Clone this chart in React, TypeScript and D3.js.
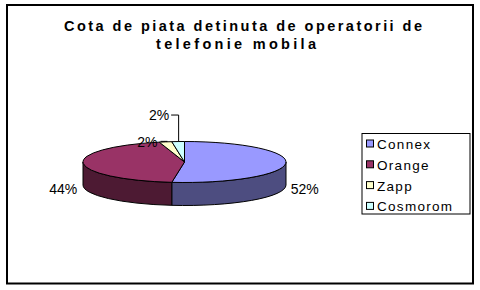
import React from "react";
import * as d3 from "d3";

const categories = ["Connex", "Orange", "Zapp", "Cosmorom"];
const values = [52, 44, 2, 2];
const labels = ["52%", "44%", "2%", "2%"];
const topColors = ["#9999FF", "#993366", "#FFFFCC", "#CCFFFF"];
const sideColors = ["#4D4D80", "#4D1A33", "#80805F", "#5F8080"];
const titleLines = ["Cota de piata detinuta de operatorii de", "telefonie mobila"];

const W = 480;
const H = 290;
const cx = 184.5;
const cy = 162;
const rx = 101.5;
const ry = 20.5;
const depth = 23;
const FONT = "'Liberation Sans', Arial, sans-serif";

const pt = (a: number, dy = 0): [number, number] => [cx + rx * Math.sin(a), cy - ry * Math.cos(a) + dy];

export default function App() {
  const pie = d3.pie<number>().sort(null).startAngle(0).endAngle(2 * Math.PI);
  const arcs = pie(values);

  const sides = arcs.map((d, i) => {
    const s = Math.max(d.startAngle, Math.PI / 2);
    const e = Math.min(d.endAngle, (3 * Math.PI) / 2);
    if (s >= e) return null;
    const [x0, y0] = pt(s);
    const [x1, y1] = pt(e);
    const [x2, y2] = pt(e, depth);
    const [x3, y3] = pt(s, depth);
    const p = `M${x0},${y0} A${rx},${ry} 0 0 1 ${x1},${y1} L${x2},${y2} A${rx},${ry} 0 0 0 ${x3},${y3} Z`;
    return <path key={"s" + i} d={p} fill={sideColors[i]} stroke="#000" strokeWidth={1} />;
  });

  const tops = arcs.map((d, i) => {
    const [x0, y0] = pt(d.startAngle);
    const [x1, y1] = pt(d.endAngle);
    const large = d.endAngle - d.startAngle > Math.PI ? 1 : 0;
    const p = `M${cx},${cy} L${x0},${y0} A${rx},${ry} 0 ${large} 1 ${x1},${y1} Z`;
    return <path key={"t" + i} d={p} fill={topColors[i]} stroke="#000" strokeWidth={1} strokeLinejoin="round" />;
  });

  const labelEls = arcs.map((d, i) => {
    const mid = (d.startAngle + d.endAngle) / 2;
    const [ex, ey] = pt(mid);
    const style = { fontFamily: FONT, fontSize: 14, fill: "#000" } as const;
    if (values[i] >= 10) {
      const right = Math.sin(mid) > 0;
      const x = right ? ex + 5 : ex - 6;
      return (
        <text key={"l" + i} x={x} y={ey + 31} textAnchor={right ? "start" : "end"} style={style}>
          {labels[i]}
        </text>
      );
    }
    if (i === 2) {
      return (
        <g key={"l" + i}>
          <line x1={ex - 5} y1={ey - 0.5} x2={ex + 2} y2={ey - 0.5} stroke="#000" strokeWidth={1} />
          <text x={ex - 8} y={ey + 5} textAnchor="end" style={style}>
            {labels[i]}
          </text>
        </g>
      );
    }
    const ly = ey - 26.5;
    return (
      <g key={"l" + i}>
        <polyline points={`${ex + 0.5},${ey} ${ex + 0.5},${ly} ${ex - 7},${ly}`} fill="none" stroke="#000" strokeWidth={1} />
        <text x={ex - 9} y={ly + 5} textAnchor="end" style={style}>
          {labels[i]}
        </text>
      </g>
    );
  });

  const legendX = 362;
  const legendY = 133.5;
  const legendW = 108;
  const legendH = 80.5;
  const step = 20.8;

  return (
    <svg width={W} height={H} style={{ position: "absolute", left: 0, top: 0, background: "#fff" }}>
      <rect x={7} y={5} width={466} height={278.5} fill="#fff" stroke="#000" strokeWidth={2} />
      {titleLines.map((t, i) => (
        <text
          key={i}
          x={i === 0 ? 64 : 156}
          y={30.5 + i * 18.3}
          textLength={i === 0 ? 358 : 160}
          lengthAdjust="spacing"
          style={{ fontFamily: FONT, fontSize: 14.5, fontWeight: "bold" }}
        >
          {t}
        </text>
      ))}
      {sides}
      {tops}
      {labelEls}
      <rect x={legendX} y={legendY} width={legendW} height={legendH} fill="#fff" stroke="#000" strokeWidth={1} />
      {categories.map((c, i) => {
        const yc = legendY + 10.5 + i * step;
        return (
          <g key={c}>
            <rect x={366.5} y={yc - 4} width={7} height={7} fill={topColors[i]} stroke="#000" strokeWidth={1} />
            <text x={377} y={yc + 5} style={{ fontFamily: FONT, fontSize: 13.5, letterSpacing: 1.3 }}>
              {c}
            </text>
          </g>
        );
      })}
    </svg>
  );
}
